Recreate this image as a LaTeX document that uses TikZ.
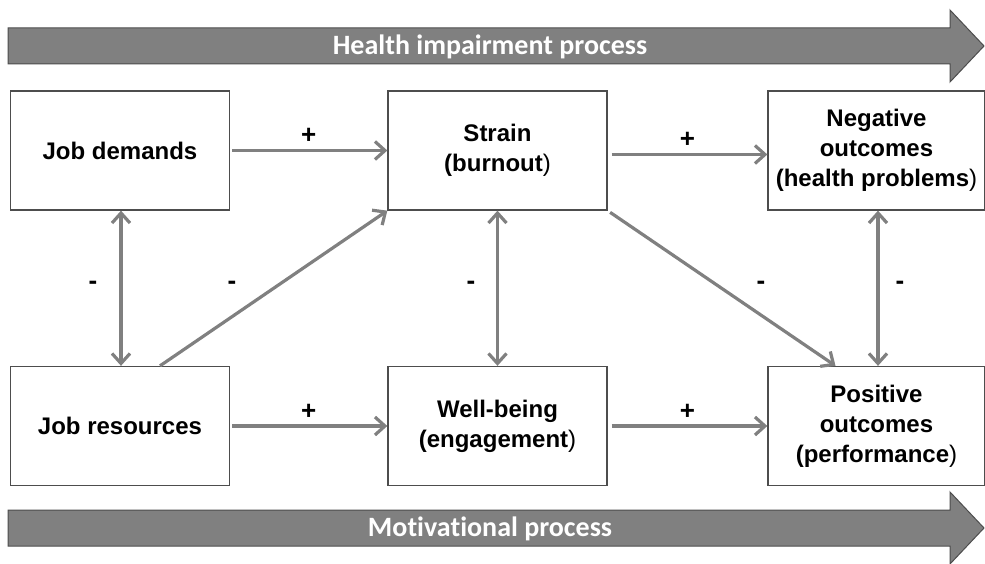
\documentclass[tikz,border=0pt]{standalone}
\usepackage{fontspec}
\setmainfont{Liberation Sans}
\newfontfamily\bannerfont[Ligatures=NoCommon]{Carlito}
\usepackage{xcolor}
\usetikzlibrary{positioning, arrows.meta, shapes}
\definecolor{linegray}{HTML}{808080}
\definecolor{boxedge}{HTML}{4D4D4D}

\begin{document}
\begin{tikzpicture}[x=1pt, y=-1pt,
        box/.style={draw=boxedge, line width=1.3pt, fill=white, minimum width=219pt, minimum height=119pt, align=center, inner sep=2pt, font=\fontsize{24}{30}\selectfont\bfseries},
        link/.style={draw=linegray, line width=3.2pt, -{Straight Barb[length=10pt, width=18pt]}},
        both/.style={link, {Straight Barb[length=10pt, width=18pt]}-{Straight Barb[length=10pt, width=18pt]}},
        sign/.style={font=\fontsize{26}{26}\selectfont\bfseries},
        banner/.style={fill=linegray, draw=boxedge, line width=1pt},
        bannertext/.style={text=white, font=\bannerfont\fontsize{28}{28}\selectfont\bfseries}]
        \useasboundingbox (0,0) rectangle (985,564);
        % process banners
        \foreach \y/\n in {46/top, 528/bot} \draw[banner] (8,\y-18) -- (950,\y-18) -- (950,\y-36) -- (984,\y) -- (950,\y+36) -- (950,\y+18) -- (8,\y+18) -- cycle;
        \node[bannertext] (health) at (490,47) {Health impairment process};
        \node[bannertext] (motiv) at (490,529) {Motivational process};
        % boxes
        \node[box] (demands) at (120,150.5) {Job demands};
        \node[box] (strain) at (497.5,150.5) {Strain\\(burnout\textmd{)}};
        \node[box, minimum width=217pt] (negative) at (876.5,150.5) {Negative\\outcomes\\(health problems\textmd{)}};
        \node[box] (resources) at (120,426) {Job resources};
        \node[box] (wellbeing) at (497.5,426) {Well-being\\(engagement\textmd{)}};
        \node[box, minimum width=217pt] (positive) at (876.5,426) {Positive\\outcomes\\(performance\textmd{)}};
        % links
        \draw[link, shorten <=2pt] (demands.east) -- (strain.west) node[sign, midway, above=2pt] (p1) {+};
        \draw[link, shorten <=4pt] ([yshift=-4pt]strain.east) -- ([yshift=-4pt]negative.west) node[sign, midway, above=2pt] (p2) {+};
        \draw[link, shorten <=2pt] (resources.east) -- (wellbeing.west) node[sign, midway, above=2pt] (p3) {+};
        \draw[link, shorten <=4pt] (wellbeing.east) -- (positive.west) node[sign, midway, above=2pt] (p4) {+};
        \draw[both] ([xshift=1pt]demands.south) -- ([xshift=1pt]resources.north);
        \draw[both] (strain.south) -- (wellbeing.north);
        \draw[both] ([xshift=1.5pt]negative.south) -- ([xshift=1.5pt]positive.north);
        \draw[link] ([xshift=40pt]resources.north) -- (strain.south west);
        \draw[link, shorten <=3pt] (strain.south east) -- ([xshift=-41pt]positive.north);
        % signs
        \node[sign] (m1) at (93,285) {-};
        \node[sign] (m2) at (232,285) {-};
        \node[sign] (m3) at (471,285) {-};
        \node[sign] (m4) at (761,285) {-};
        \node[sign] (m5) at (900,285) {-};
    \end{tikzpicture}
\end{document}
